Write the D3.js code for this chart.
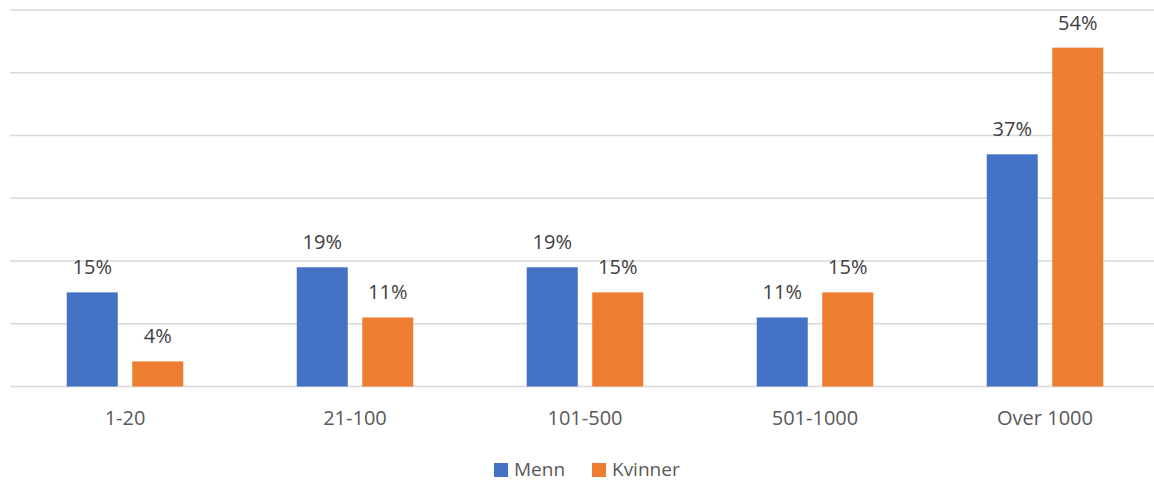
<!DOCTYPE html>
<html>
<head>
<meta charset="utf-8">
<script src="https://cdn.jsdelivr.net/npm/d3@7"></script>
<style>
  html, body { margin: 0; padding: 0; background: #ffffff; }
  svg { display: block; font-family: "Open Sans", "Noto Sans", sans-serif; }
</style>
</head>
<body>
<svg id="chart" width="1154" height="481"></svg>
<script>
// Share by company size, per gender (percent)
const categories = ["1-20", "21-100", "101-500", "501-1000", "Over 1000"];
const seriesNames = ["Menn", "Kvinner"];
const menn = [15, 19, 19, 11, 37];
const kvinner = [4, 11, 15, 15, 54];
const gridTicks = [0, 10, 20, 30, 40, 50, 60];
const colors = ["#4472C4", "#ED7D31"];

const svg = d3.select("#chart");
const W = 1154;
const plotLeft = 10, plotTop = 10, baseline = 386.5;

const x = d3.scaleBand().domain(categories).range([plotLeft, 1160]).paddingInner(0).paddingOuter(0);
const x1 = d3.scaleBand().domain(seriesNames).range([0, x.bandwidth()]).paddingInner(0.221).paddingOuter(0.866);
const y = d3.scaleLinear().domain([0, 60]).range([baseline, plotTop]);

// horizontal gridlines
svg.append("g").selectAll("line").data(gridTicks).join("line")
  .attr("x1", plotLeft).attr("x2", W)
  .attr("y1", d => y(d)).attr("y2", d => y(d))
  .attr("stroke", "#d9d9d9").attr("stroke-width", 1.5);

const rows = categories.map((c, i) => ({ cat: c, vals: [menn[i], kvinner[i]] }));

const groups = svg.append("g").selectAll("g").data(rows).join("g")
  .attr("transform", d => `translate(${x(d.cat)},0)`);

groups.selectAll("rect").data(d => d.vals.map((v, j) => ({ name: seriesNames[j], v, j })))
  .join("rect")
  .attr("x", d => x1(d.name))
  .attr("width", x1.bandwidth())
  .attr("y", d => y(d.v))
  .attr("height", d => baseline - y(d.v))
  .attr("fill", d => colors[d.j]);

groups.selectAll("text").data(d => d.vals.map((v, j) => ({ name: seriesNames[j], v, j })))
  .join("text")
  .attr("x", d => x1(d.name) + x1.bandwidth() / 2)
  .attr("y", d => y(d.v) - 18)
  .attr("text-anchor", "middle")
  .attr("font-size", 20)
  .attr("fill", "#404040")
  .text(d => d.v + "%");

// category axis labels
svg.append("g").selectAll("text").data(categories).join("text")
  .attr("x", d => x(d) + x.bandwidth() / 2)
  .attr("y", 425)
  .attr("text-anchor", "middle")
  .attr("font-size", 20)
  .attr("fill", "#595959")
  .text(d => d);

// legend
const legendItems = [
  { name: seriesNames[0], color: colors[0], x: 494 },
  { name: seriesNames[1], color: colors[1], x: 592 }
];
const lg = svg.append("g").selectAll("g").data(legendItems).join("g")
  .attr("transform", d => `translate(${d.x},0)`);
lg.append("rect").attr("x", 0).attr("y", 463).attr("width", 14).attr("height", 14).attr("fill", d => d.color);
lg.append("text").attr("x", 20).attr("y", 476)
  .attr("font-size", 19).attr("fill", "#595959").text(d => d.name);
</script>
</body>
</html>
